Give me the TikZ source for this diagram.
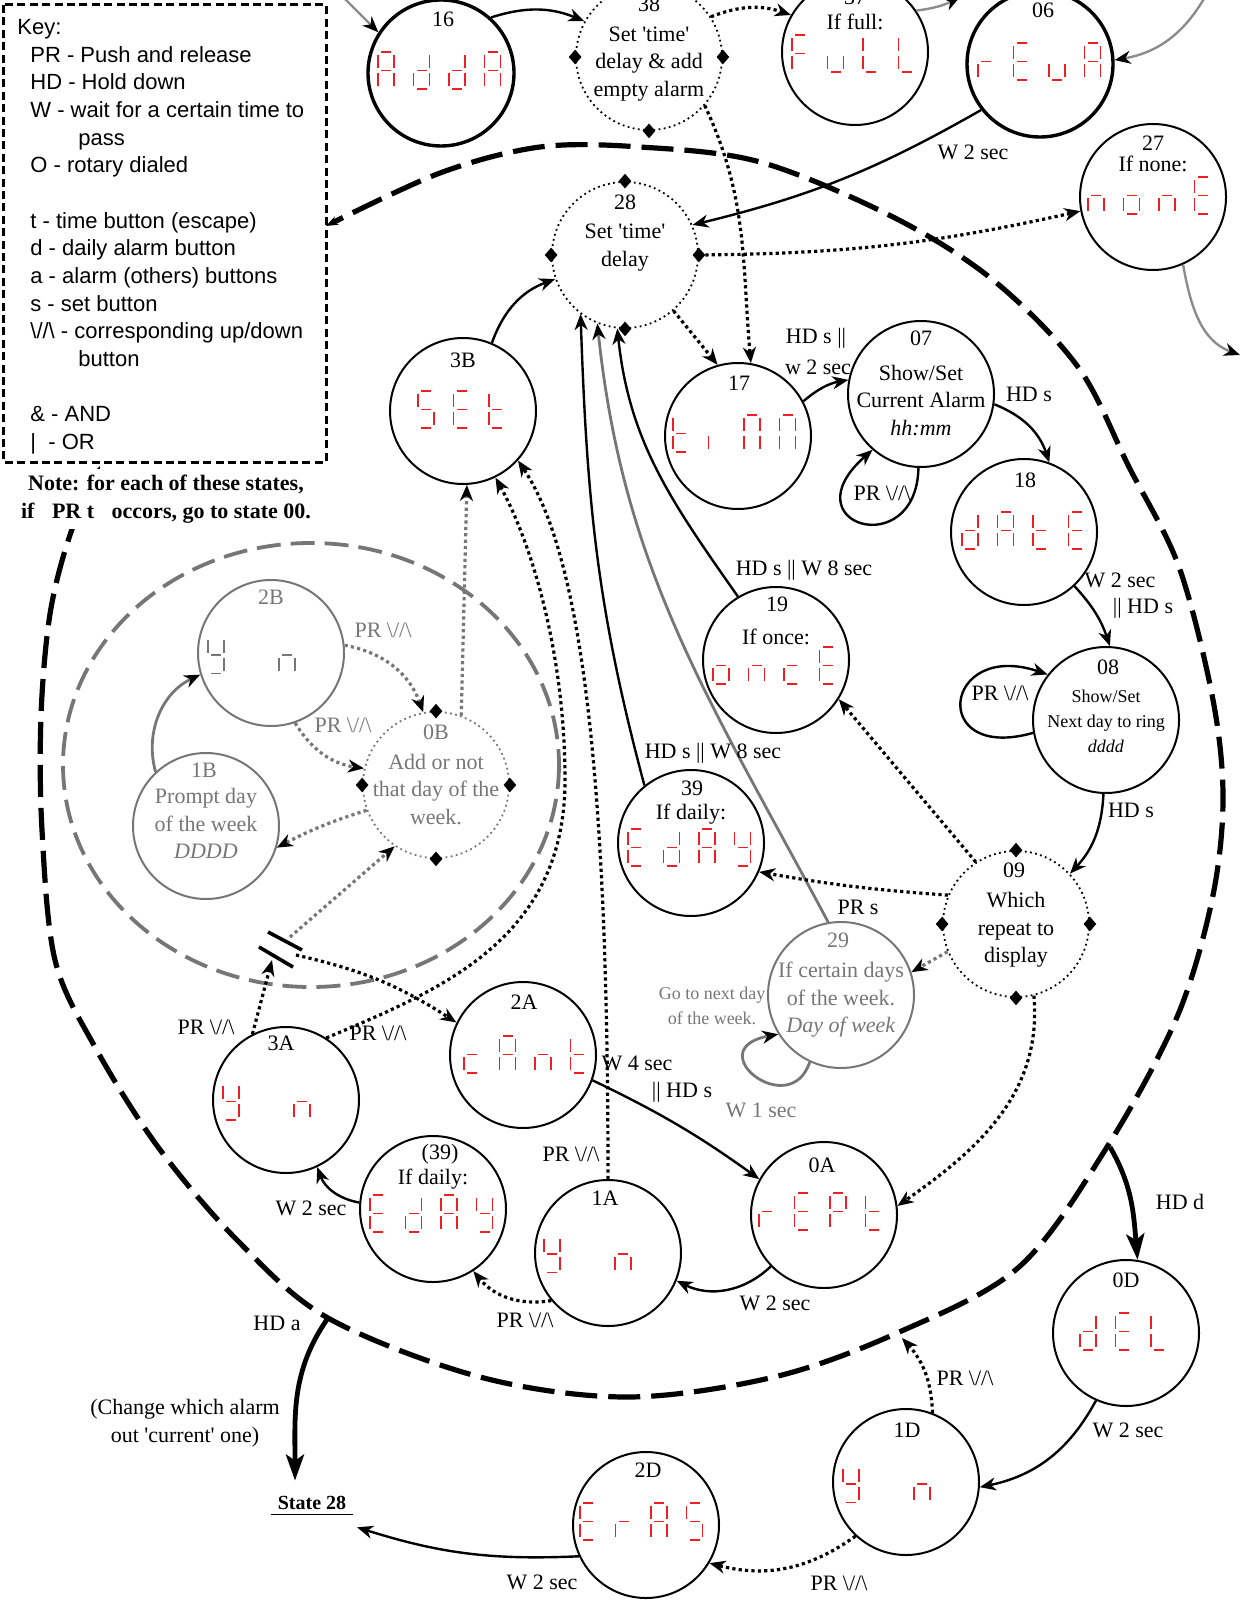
\documentclass[tikz,border=0pt]{standalone}
\usepackage{fontspec}
\setmainfont{Liberation Serif}
\setsansfont{Liberation Sans}
\usepackage{tikz}
\usetikzlibrary{arrows.meta, shapes.geometric, calc}
\definecolor{segRed}{RGB}{236,32,36}
\definecolor{stateGrey}{RGB}{118,118,118}

\newcommand\vupdn{\textbackslash//\textbackslash}
\newcommand\sq{\textquotesingle}

% seven segment digit, (#1,#2) is its top left corner
\newcommand\sgma[2]{\draw[seg] (#1+3,#2) -- (#1+13,#2);}
\newcommand\sgmb[2]{\draw[seg] (#1+16,#2+3) -- (#1+16,#2+16);}
\newcommand\sgmc[2]{\draw[seg] (#1+16,#2+21) -- (#1+16,#2+34);}
\newcommand\sgmd[2]{\draw[seg] (#1+3,#2+37) -- (#1+13,#2+37);}
\newcommand\sgme[2]{\draw[seg] (#1,#2+21) -- (#1,#2+34);}
\newcommand\sgmf[2]{\draw[seg] (#1,#2+3) -- (#1,#2+16);}
\newcommand\sgmg[2]{\draw[seg] (#1+3,#2+18.5) -- (#1+13,#2+18.5);}
\newcommand\sgmx[2]{}
% letters
\def\sgmchA{a,b,c,e,f,g}
\def\sgmchd{b,c,d,e,g}
\def\sgmchF{a,e,f,g}
\def\sgmchu{c,d,e}
\def\sgmchL{d,e,f}
\def\sgmchr{e,g}
\def\sgmchE{a,d,e,f,g}
\def\sgmchn{c,e,g}
\def\sgmcho{c,d,e,g}
\def\sgmcht{d,e,f,g}
\def\sgmchS{a,c,d,f,g}
\def\sgmchc{d,e,g}
\def\sgmchy{b,c,d,f,g}
\def\sgmchP{a,b,e,f,g}
\def\sgmchi{e}
\def\sgmchM{a,b,c,e,f}
\def\sgmchX{x}
\newcommand\segshow[3]{%
  \foreach \chr [count=\cnum from 0] in {#3}{%
    \edef\chsegs{\csname sgmch\chr\endcsname}%
    \foreach \sg in \chsegs {\csname sgm\sg\endcsname{#1+35.5*\cnum}{#2}}}}

\begin{document}
\begin{tikzpicture}[x=0.5pt, y=-0.5pt,
  font=\fontsize{11}{13.75}\selectfont,
  state/.style={circle, draw, line width=1pt, minimum size=73pt, inner sep=0pt},
  heavy/.style={state, line width=1.7pt},
  choice/.style={state, line width=0.9pt, dash pattern=on 0.9pt off 1.7pt},
  greystate/.style={state, draw=stateGrey},
  greychoice/.style={choice, draw=stateGrey},
  dmark/.style={diamond, fill=black, inner sep=0pt, minimum width=6.5pt, minimum height=7.5pt},
  num/.style={inner sep=0pt},
  txt/.style={inner sep=0pt, align=center},
  lbl/.style={inner sep=0pt},
  small/.style={inner sep=0pt, align=center, font=\fontsize{9}{12.5}\selectfont},
  grey/.style={text=stateGrey},
  keytxt/.style={inner sep=0pt, align=left, font=\sffamily\fontsize{11}{13.83}\selectfont},
  seg/.style={draw=segRed, line width=0.8pt},
  a/.style={-{Stealth[length=8pt, width=6.5pt, inset=2.5pt, color=black]}, line width=1.2pt},
  dots/.style={a, line width=1.6pt, dash pattern=on 1.6pt off 1.6pt},
  greydots/.style={dots, draw=stateGrey},
  greya/.style={a, draw=stateGrey, line width=1.4pt},
  fade/.style={a, draw=black!45},
  big/.style={-{Stealth[length=13pt, width=9pt, inset=3pt]}, line width=2.4pt},
  ring/.style={line width=2.6pt, dash pattern=on 16pt off 5.5pt},
  greyring/.style={draw=stateGrey, line width=1.9pt, dash pattern=on 12pt off 5pt},
]
\useasboundingbox (0,0) rectangle (1241,1604);

% outer group and day-of-week group
\draw[ring, {Stealth[length=6pt]}-{Stealth[length=6pt]}] plot[smooth, tension=0.55] coordinates {
  (100,466) (70,535) (50,614) (41,716) (42,830) (55,960) (95,1047) (158,1147)
  (237,1240) (328,1318) (480,1377) (627,1397) (774,1377) (897,1333) (1019,1267)
  (1107,1147) (1177,1017) (1212,900) (1223,800) (1213,700) (1179,567) (1129,467)
  (1078,367) (993,280) (893,217) (760,162) (640,147) (540,147) (440,173) (326,226)};
\draw[greyring] (311,765) ellipse [x radius=248, y radius=222];

% key
\draw[line width=1.5pt, dash pattern=on 4pt off 2.2pt] (3,5) rectangle (326,462);
\node[keytxt, anchor=north west] (keytext) at (17,19) {Key:\\
\hspace*{6.5pt}PR - Push and release\\
\hspace*{6.5pt}HD - Hold down\\
\hspace*{6.5pt}W - wait for a certain time to\\
\hspace*{30.5pt}pass\\
\hspace*{6.5pt}O - rotary dialed\\
\mbox{}\\
\hspace*{6.5pt}t - time button (escape)\\
\hspace*{6.5pt}d - daily alarm button\\
\hspace*{6.5pt}a - alarm (others) buttons\\
\hspace*{6.5pt}s - set button\\
\hspace*{6.5pt}\vupdn{} - corresponding up/down\\
\hspace*{30.5pt}button\\
\mbox{}\\
\hspace*{6.5pt}\& - AND\\
\hspace*{6.5pt}|\ \ - OR};
\node[txt, fill=white, inner ysep=3pt, font=\bfseries\fontsize{11}{14}\selectfont] (note) at (166,499)
  {Note: for each of these states,\\if\hspace{6pt} PR t\hspace{6pt} occors, go to state 00.};

% states
\node[heavy] (s16) at (441,73) {};
\node[choice] (s38) at (649,57) {};
\node[state] (s37) at (855,52) {};
\node[heavy] (s06) at (1040,64) {};
\node[state] (s27) at (1153,197) {};
\node[choice] (s28) at (625,255) {};
\node[state] (s3B) at (463,411) {};
\node[state] (s17) at (738,436) {};
\node[state] (s07) at (921,394) {};
\node[state] (s18) at (1024,532) {};
\node[state] (s19) at (776,660) {};
\node[state] (s08) at (1106,720) {};
\node[state] (s39) at (691,843) {};
\node[choice] (s09) at (1016,924) {};
\node[greystate] (s29) at (841,995) {};
\node[state] (s2A) at (523,1055) {};
\node[state] (s3A) at (286,1100) {};
\node[state] (s39b) at (433,1209) {};
\node[state] (s1A) at (608,1253) {};
\node[state] (s0A) at (824,1215) {};
\node[state] (s0D) at (1126,1333) {};
\node[state] (s1D) at (906,1482) {};
\node[state] (s2D) at (646,1525) {};
\node[greystate] (s2B) at (271,653) {};
\node[greystate] (s1B) at (206,826) {};
\node[greychoice] (s0B) at (436,785) {};
\foreach \n in {s38,s28,s09,s0B}
  \foreach \side in {north,south,east,west}
    \node[dmark] (\n-\side) at (\n.\side) {};

% state texts
\node[num] (n16) at (443,19) {16};
\node[num] (n38) at (649,4) {38};
\node[txt] (t38) at (649,64) {Set \sq time\sq\\delay \& add\\empty alarm};
\node[num] (n37) at (855,-3) {37};
\node[txt] (t37) at (855,22) {If full:};
\node[num] (n06) at (1043,10) {06};
\node[num] (n27) at (1153,143) {27};
\node[txt] (t27) at (1153,164) {If none:};
\node[num] (n28) at (625,202) {28};
\node[txt] (t28) at (625,247.5) {Set \sq time\sq\\delay};
\node[num] (n3B) at (463,360) {3B};
\node[num] (n17) at (739,383) {17};
\node[num] (n07) at (921,338) {07};
\node[txt] (t07) at (921,400.5) {Show/Set\\Current Alarm\\\textit{hh:mm}};
\node[num] (n18) at (1025,480) {18};
\node[num] (n19) at (777,604) {19};
\node[txt] (t19) at (776,637) {If once:};
\node[num] (n08) at (1108,667) {08};
\node[small] (t08) at (1106,721) {Show/Set\\Next day to ring\\\textit{dddd}};
\node[num] (n39) at (692,788) {39};
\node[txt] (t39) at (691,814) {If daily:};
\node[num] (n09) at (1014,870) {09};
\node[txt] (t09) at (1016,930) {Which\\repeat to\\display};
\node[num, grey] (n29) at (838,940) {29};
\node[txt, grey] (t29) at (841,1000) {If certain days\\of the week.\\\textit{Day of week}};
\node[num] (n2A) at (524,1002) {2A};
\node[num] (n3A) at (281,1043) {3A};
\node[num] (n39b) at (440,1154) {(39)};
\node[txt] (t39b) at (433,1179) {If daily:};
\node[num] (n1A) at (605,1198) {1A};
\node[num] (n0A) at (822,1165) {0A};
\node[num] (n0D) at (1126,1280) {0D};
\node[num] (n1D) at (907,1430) {1D};
\node[num] (n2D) at (648,1470) {2D};
\node[num, grey] (n2B) at (271,597) {2B};
\node[num, grey] (n1B) at (204,770) {1B};
\node[txt, grey] (t1B) at (206,823.5) {Prompt day\\of the week\\\textit{DDDD}};
\node[num, grey] (n0B) at (436,732) {0B};
\node[txt, grey] (t0B) at (436,789.5) {Add or not\\that day of the\\week.};

% displays
\segshow{378}{52}{A,d,d,A}
\segshow{792}{35}{F,u,L,L}
\segshow{978}{43}{r,E,u,A}
\segshow{1088}{177}{n,o,n,E}
\segshow{418}{391}{S,E,t}
\segshow{673}{415}{t,i,M,M}
\segshow{962}{512}{d,A,t,E}
\segshow{713}{647}{o,n,c,E}
\segshow{628}{829}{E,d,A,y}
\segshow{464}{1036}{c,A,n,t}
\segshow{370}{1195}{E,d,A,y}
\segshow{223}{1083}{y,X,n}
\segshow{544}{1235.5}{y,X,n}
\segshow{759}{1193}{r,E,P,t}
\segshow{1080}{1313}{d,E,L}
\segshow{843}{1465.5}{y,X,n}
\segshow{580}{1503}{E,r,A,S}
\begin{scope}[seg/.style={draw=stateGrey, line width=0.8pt}]
  \segshow{208}{636.5}{y,X,n}
\end{scope}

% loose ends
\coordinate (in16) at (343,-3);
\coordinate (out37) at (960,-3);
\coordinate (in06) at (1205,-3);
\coordinate (out27) at (1240,355);
\coordinate (hdd) at (1110,1147);
\coordinate (hda) at (328,1318);
\coordinate (upD) at (902,1338);
\coordinate (brkA) at (272,960);
\coordinate (brkB) at (290,937);
\coordinate (brkC) at (296,955);
\node[inner xsep=3.25pt, inner ysep=2.35pt, font=\bfseries, anchor=base] (st28) at (312,1509) {State 28};
\draw[line width=0.8pt] (st28.south west) -- (st28.south east);
\draw[line width=1.8pt] (268,932) -- (302,950);
\draw[line width=1.8pt] (259,947) -- (293,967);

% top row
\draw[fade] (in16) -- (s16.147);
\draw[a] (s16.48) to[bend left=20] (s38.151);
\draw[dots] (s38.33) to[bend left=20] (s37.150);
\draw[fade] (s37.34) to[bend right=10] (out37);
\draw[fade] (in06) to[bend left=25] (s06.3);
\draw[a] (s06.218) to[bend left=8] (s28.24);
\draw[dots] (s28.east) to[bend right=6] (s27.191);
\draw[fade] (s27.294) to[out=-80, in=160] (out27);
\draw[dots] (s38.319) to[out=-65, in=95] (s17.80);
\draw[dots] (s28.311) -- (s17.106);

% into 28
\draw[a] (s3B.67) to[bend left=25] (s28.199);
\draw[a] (s39.129) to[out=105, in=-88] (s28.233);
\draw[greya] (s29.100) to[out=118, in=-84] (s28.248);
\draw[a] (s19.121) to[out=125, in=-84] (s28.264);

% right hand chain
\draw[a] (s17.28) to[bend left=15] (s07.169);
\draw[a] (s07.268) .. controls +(-2,95) and +(-85,75) .. (s07.229);
\draw[a] (s07.352) to[bend left=25] (s18.70);
\draw[a] (s18.313) to[bend left=12] (s08.87);
\draw[a] (s08.190) .. controls +(-105,30) and +(-105,-35) .. (s08.142);
\draw[a] (s08.268) to[bend left=20] (s09.43);
\draw[dots] (s09.123) -- (s19.328);
\draw[dots] (s09.157) to[bend left=3] (s39.337);
\draw[greydots] (s09.202) -- (s29.18);
\draw[greya] (s29.245) .. controls +(-20,60) and +(-80,15) .. (s29.212);
\draw[dots] (s09.284) to[out=-85, in=35] (s0A.7);

% repeat chain
\draw[a] (s2A.340) to[bend left=5] (s0A.151);
\draw[a] (s0A.224) to[bend left=35] (s1A.338);
\draw[dots] (s1A.220) to[bend left=30] (s39b.303);
\draw[a] (s39b.175) to[bend left=30] (s3A.295);
\draw[dots] (s3A.117) -- (brkA);
\draw[greydots] (brkB) -- (s0B.236);
\draw[dots] (brkC) to[bend left=10] (s2A.154);
\draw[dots] (s3A.57) .. controls (440,990) and (565,940) .. (565,780)
  .. controls (565,650) and (530,540) .. (s3B.296);
\draw[dots] (s1A.90) .. controls (608,800) and (585,560) .. (s3B.318);
\draw[greydots] (s0B.70) -- (s3B.273);

% day of week group
\draw[greya] (s1B.133) to[bend left=40] (s2B.197);
\draw[greydots] (s2B.6) to[bend left=30] (s0B.100);
\draw[greydots] (s2B.289) to[bend right=25] (s0B.167);
\draw[greydots] (s0B.200) to[bend right=5] (s1B.343);

% delete chain
\draw[big] (hdd) to[out=-60, in=95] (s0D.81);
\draw[a] (s0D.246) to[bend left=25] (s1D.356);
\draw[dots] (s1D.69) to[bend right=20] (upD);
\draw[dots] (s1D.227) to[bend left=25] (s2D.329);
\draw[a] (s2D.205) to[bend left=10] ([xshift=2pt, yshift=-6.5pt]st28.south east);
\draw[big] (hda) to[out=-125, in=90] ([xshift=-8.5pt, yshift=5pt]st28.north);

% labels
\node[lbl] (w06) at (973,152) {W 2 sec};
\node[lbl] (h17a) at (816,338) {HD s ||};
\node[lbl] (h17b) at (818,367) {w 2 sec};
\node[lbl] (p07) at (882,493) {PR \vupdn};
\node[lbl] (h07) at (1029,394) {HD s};
\node[lbl] (w18a) at (1120,580) {W 2 sec};
\node[lbl] (w18b) at (1143,608) {|| HD s};
\node[lbl] (p08) at (1000,693) {PR \vupdn};
\node[lbl] (h08) at (1131,810) {HD s};
\node[lbl] (h19) at (804,570) {HD s || W 8 sec};
\node[lbl] (h39) at (713,753) {HD s || W 8 sec};
\node[lbl] (p29) at (858,907) {PR s};
\node[small, grey] (g29) at (712,1006) {Go to next day\\of the week.};
\node[lbl, grey] (w29) at (761,1110) {W 1 sec};
\node[lbl] (w2Aa) at (637,1063) {W 4 sec};
\node[lbl] (w2Ab) at (682,1092) {|| HD s};
\node[lbl] (p1Aup) at (571,1154) {PR \vupdn};
\node[lbl] (w0A) at (775,1303) {W 2 sec};
\node[lbl] (p1A) at (525,1320) {PR \vupdn};
\node[lbl] (w39b) at (311,1208) {W 2 sec};
\node[lbl] (p3Al) at (206,1027) {PR \vupdn};
\node[lbl] (p3Ar) at (378,1033) {PR \vupdn};
\node[lbl, grey] (p2Ba) at (383,630) {PR \vupdn};
\node[lbl, grey] (p2Bb) at (343,725) {PR \vupdn};
\node[lbl] (hdD) at (1180,1202) {HD d};
\node[lbl] (w0D) at (1128,1430) {W 2 sec};
\node[lbl] (p1Dup) at (965,1378) {PR \vupdn};
\node[lbl] (p1D) at (839,1583) {PR \vupdn};
\node[lbl] (w2D) at (542,1582) {W 2 sec};
\node[lbl] (hdA) at (277,1323) {HD a};
\node[txt] (chg) at (185,1423) {(Change which alarm\\out \sq current\sq{} one)};
\end{tikzpicture}
\end{document}
